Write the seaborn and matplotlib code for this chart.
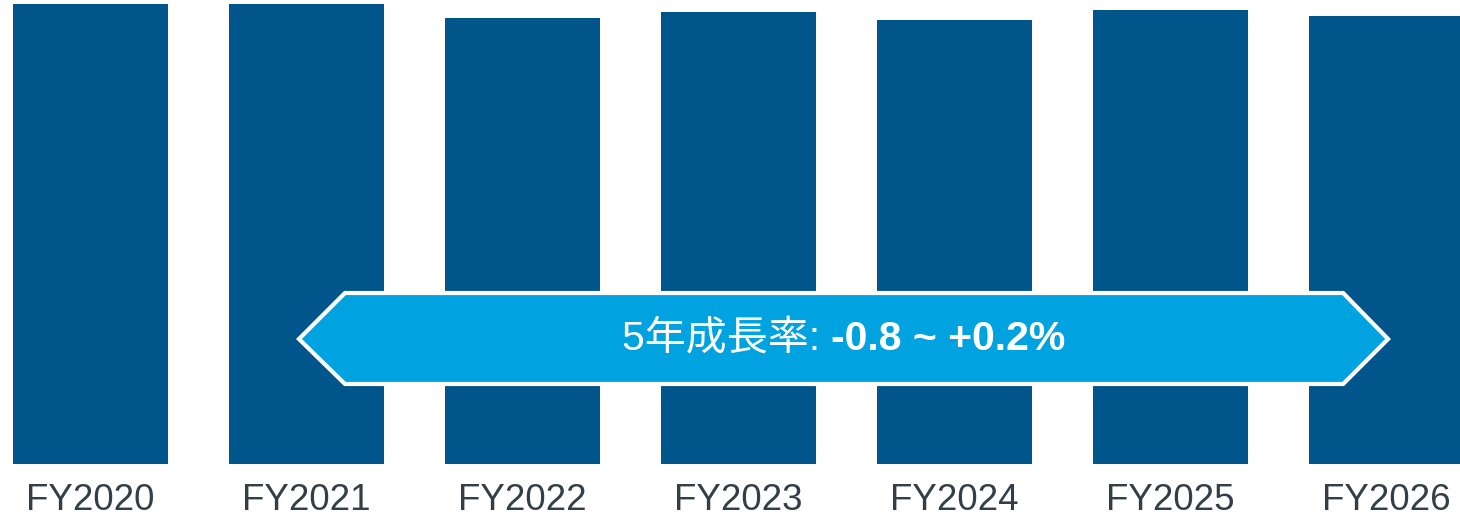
import numpy as np
import pandas as pd
import matplotlib
matplotlib.use("Agg")
import matplotlib.pyplot as plt
from matplotlib.patches import Polygon
import seaborn as sns

#----------------------------------
# data (index values)
#----------------------------------
years = ["FY2020", "FY2021", "FY2022", "FY2023", "FY2024", "FY2025", "FY2026"]
values = [459.7, 459.7, 445.7, 451.7, 444.0, 454.5, 448.5]
label_regular = "5年成長率: "
label_bold = "-0.8 ~ +0.2%"

bar_color = "#00568A"
arrow_color = "#00A3E0"
text_color = "#333F48"

sns.set_theme(style="white")
plt.rcParams['font.family'] = ['Liberation Sans', 'Noto Sans CJK JP', 'DejaVu Sans']

df = pd.DataFrame({"year": years, "value": values})

fig = plt.figure(figsize=(14.6, 5.17), dpi=100)
ax = fig.add_axes([0, 53 / 517, 1, 464 / 517])

sns.barplot(data=df, x="year", y="value", color=bar_color, saturation=1,
            width=0.718, edgecolor="none", ax=ax)

ax.set_xlim(-0.419, 6.340)
ax.set_ylim(0, 464)
ax.set_xlabel("")
ax.set_ylabel("")
ax.set_yticks([])
sns.despine(ax=ax, left=True, bottom=True, right=True, top=True)
ax.tick_params(axis="x", length=0, pad=14, labelsize=26.5, labelcolor=text_color)

#----------------------------------
# growth arrow
#----------------------------------
x_tip_l, x_sh_l, x_sh_r, x_tip_r = 0.965, 1.178, 5.799, 6.007
y_top, y_mid, y_bot = 171, 125, 80
arrow = Polygon([[x_tip_l, y_mid], [x_sh_l, y_top], [x_sh_r, y_top],
                 [x_tip_r, y_mid], [x_sh_r, y_bot], [x_sh_l, y_bot]],
                closed=True, facecolor=arrow_color, edgecolor="white",
                linewidth=3, joinstyle="miter", zorder=5, clip_on=False)
ax.add_patch(arrow)

x_center = (x_tip_l + x_tip_r) / 2
t1 = ax.text(x_center, y_mid, label_regular, color="white", fontsize=29.5,
             ha="left", va="center", zorder=6)
t2 = ax.text(x_center, y_mid, label_bold, color="white", fontsize=29.5,
             fontweight="bold", ha="left", va="center", zorder=6)

# put the two pieces side by side, centred on the arrow
fig.canvas.draw()
r = fig.canvas.get_renderer()
w1 = t1.get_window_extent(r).width
w2 = t2.get_window_extent(r).width
cx = ax.transData.transform((x_center, y_mid))[0]
start = cx - (w1 + w2) / 2
inv = ax.transData.inverted()
t1.set_x(inv.transform((start, 0))[0])
t2.set_x(inv.transform((start + w1, 0))[0])

fig.savefig("out.png", dpi=100)
